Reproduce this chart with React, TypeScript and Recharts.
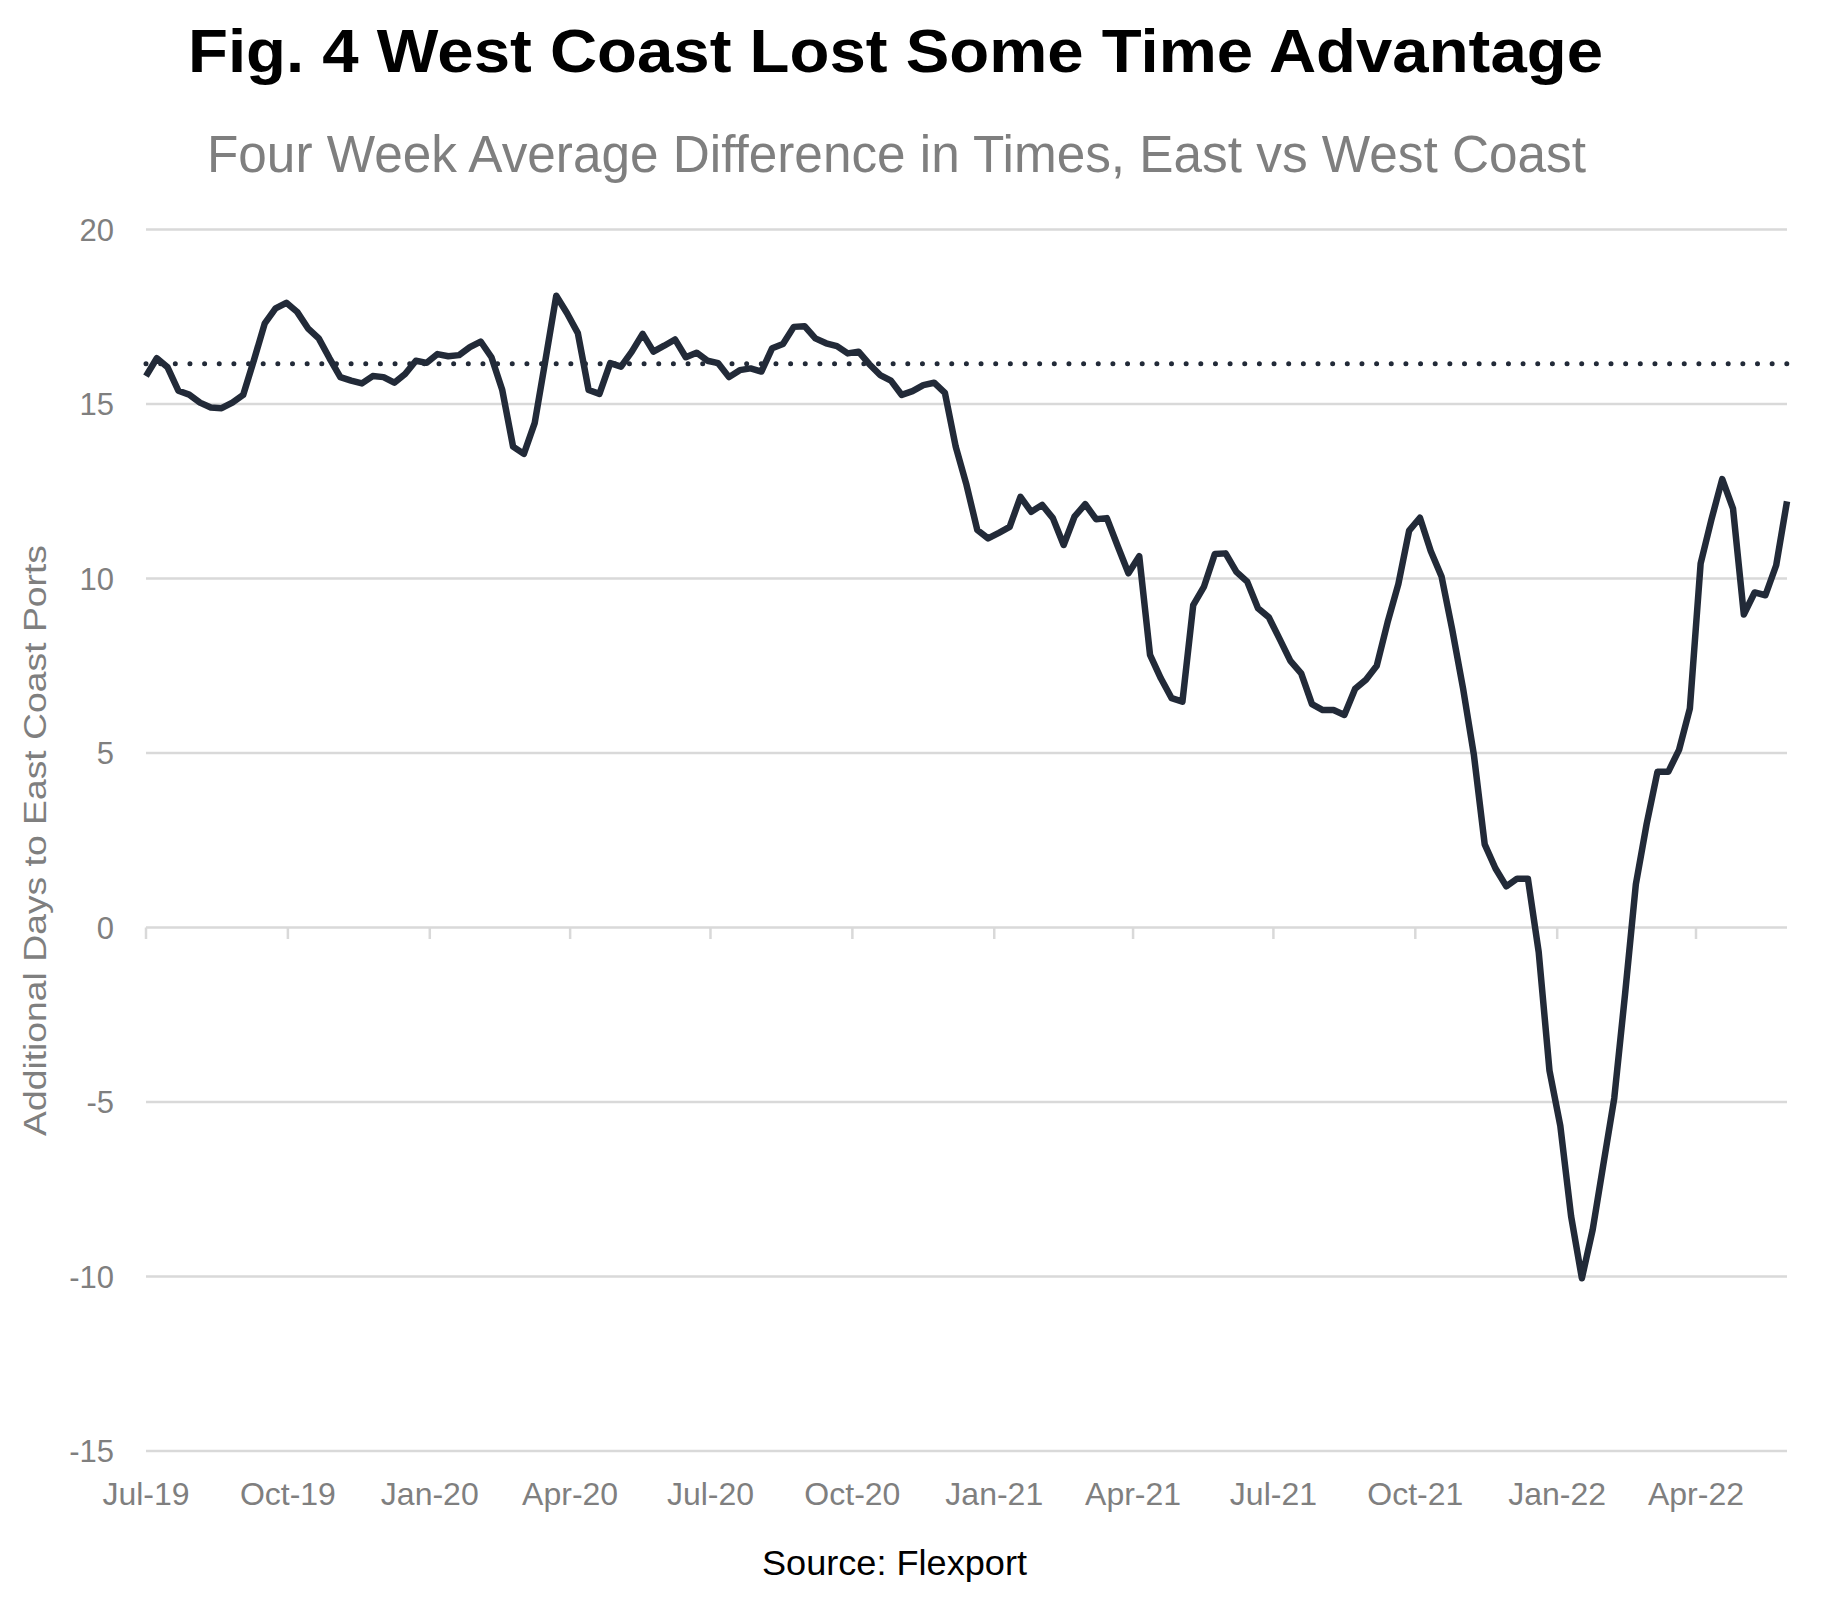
import React from 'react';
import { LineChart, Line, XAxis, YAxis, CartesianGrid, ReferenceLine } from 'recharts';

// Weekly series start (first observation) and spacing
const START_DATE = Date.UTC(2019, 6, 1);
const WEEK_MS = 7 * 24 * 3600 * 1000;

// Four-week average difference (days), East vs West coast, weekly
const diffDays = [
  15.80, 16.31, 16.05, 15.38, 15.27, 15.04, 14.90, 14.88, 15.04, 15.26,
  16.26, 17.31, 17.74, 17.90, 17.64, 17.17, 16.88, 16.31, 15.77, 15.67,
  15.59, 15.80, 15.77, 15.61, 15.86, 16.24, 16.18, 16.43, 16.37, 16.40,
  16.63, 16.79, 16.34, 15.40, 13.78, 13.57, 14.45, 16.26, 18.10, 17.60,
  17.03, 15.40, 15.29, 16.17, 16.07, 16.50, 17.01, 16.50, 16.67, 16.85,
  16.34, 16.47, 16.24, 16.17, 15.77, 15.97, 16.02, 15.93, 16.60, 16.72,
  17.21, 17.23, 16.88, 16.74, 16.66, 16.45, 16.50, 16.14, 15.83, 15.67,
  15.26, 15.37, 15.54, 15.61, 15.32, 13.78, 12.68, 11.39, 11.15, 11.31,
  11.48, 12.34, 11.91, 12.11, 11.73, 10.96, 11.77, 12.13, 11.70, 11.73,
  10.93, 10.15, 10.64, 7.81, 7.14, 6.57, 6.47, 9.24, 9.77, 10.70,
  10.72, 10.19, 9.91, 9.15, 8.89, 8.27, 7.64, 7.28, 6.40, 6.23,
  6.23, 6.09, 6.84, 7.10, 7.50, 8.74, 9.84, 11.37, 11.74, 10.79,
  10.06, 8.52, 6.84, 4.94, 2.38, 1.69, 1.18, 1.40, 1.40, -0.70,
  -4.10, -5.68, -8.27, -10.05, -8.66, -6.77, -4.89, -1.91, 1.24, 2.97,
  4.46, 4.46, 5.09, 6.27, 10.43, 11.69, 12.85, 12.00, 8.97, 9.60,
  9.52, 10.38, 12.21,
];

// Long-run average (dotted line)
const averageLevel = 16.15;

const quarterTicks = [
  Date.UTC(2019, 6, 1), Date.UTC(2019, 9, 1), Date.UTC(2020, 0, 1), Date.UTC(2020, 3, 1),
  Date.UTC(2020, 6, 1), Date.UTC(2020, 9, 1), Date.UTC(2021, 0, 1), Date.UTC(2021, 3, 1),
  Date.UTC(2021, 6, 1), Date.UTC(2021, 9, 1), Date.UTC(2022, 0, 1), Date.UTC(2022, 3, 1),
];
const quarterLabels = [
  'Jul-19', 'Oct-19', 'Jan-20', 'Apr-20', 'Jul-20', 'Oct-20',
  'Jan-21', 'Apr-21', 'Jul-21', 'Oct-21', 'Jan-22', 'Apr-22',
];
const yTicks = [-15, -10, -5, 0, 5, 10, 15, 20];

const TITLE = 'Fig. 4 West Coast Lost Some Time Advantage';
const SUBTITLE = 'Four Week Average Difference in Times, East vs West Coast';
const Y_LABEL = 'Additional Days to East Coast Ports';
const SOURCE = 'Source: Flexport';

const data = diffDays.map((v, i) => ({ t: START_DATE + i * WEEK_MS, v }));

const FONT = '"Liberation Sans", Arial, Helvetica, sans-serif';
const GRID = '#d9d9d9';
const LINE = '#222a38';
const GRAY = '#7f7f7f';

export default function App() {
  const tMin = data[0].t;
  const tMax = data[data.length - 1].t;
  return (
    <div style={{ position: 'absolute', left: 0, top: 0, width: 1845, height: 1597, background: '#fff', fontFamily: FONT }}>
      <LineChart
        width={1845}
        height={1597}
        data={data}
        margin={{ top: 229.5, right: 58, left: 0, bottom: 86 }}
      >
        <CartesianGrid horizontal vertical={false} stroke={GRID} strokeWidth={2.5} />
        <XAxis
          type="number"
          dataKey="t"
          domain={[tMin, tMax]}
          ticks={quarterTicks}
          tickFormatter={(v: number) => quarterLabels[quarterTicks.indexOf(v)] ?? ''}
          axisLine={false}
          tickLine={false}
          tickSize={0}
          tickMargin={31}
          height={60}
          interval={0}
          tick={{ fill: GRAY, fontSize: 32, fontFamily: FONT }}
        />
        <YAxis
          type="number"
          domain={[-15, 20]}
          ticks={yTicks}
          axisLine={false}
          tickLine={false}
          tickSize={0}
          tickMargin={32}
          width={146}
          interval={0}
          tick={{ fill: GRAY, fontSize: 31, fontFamily: FONT }}
        />
        {quarterTicks.map((q) => (
          <ReferenceLine
            key={q}
            segment={[{ x: q, y: 0 }, { x: q, y: -0.33 }]}
            stroke={GRID}
            strokeWidth={2.5}
            ifOverflow="visible"
          />
        ))}
        <ReferenceLine
          y={averageLevel}
          stroke={LINE}
          strokeWidth={5}
          strokeDasharray="0 14.65"
          strokeLinecap="round"
        />
        <Line
          type="linear"
          dataKey="v"
          stroke={LINE}
          strokeWidth={6.5}
          strokeLinejoin="round"
          dot={false}
          activeDot={false}
          isAnimationActive={false}
        />
      </LineChart>
      <svg
        width={1845}
        height={1597}
        style={{ position: 'absolute', left: 0, top: 0, pointerEvents: 'none' }}
      >
        <text
          x={188}
          y={72}
          fontFamily={FONT}
          fontWeight={700}
          fontSize={62}
          fill="#000"
          textLength={1415}
          lengthAdjust="spacingAndGlyphs"
        >
          {TITLE}
        </text>
        <text
          x={207}
          y={171.5}
          fontFamily={FONT}
          fontSize={51}
          fill={GRAY}
          textLength={1379}
          lengthAdjust="spacingAndGlyphs"
        >
          {SUBTITLE}
        </text>
        <text
          x={0}
          y={0}
          transform="translate(46, 1136) rotate(-90)"
          fontFamily={FONT}
          fontSize={31}
          fill={GRAY}
          textLength={591}
          lengthAdjust="spacingAndGlyphs"
        >
          {Y_LABEL}
        </text>
        <text
          x={762}
          y={1575}
          fontFamily={FONT}
          fontSize={35}
          fill="#000"
          textLength={265}
          lengthAdjust="spacingAndGlyphs"
        >
          {SOURCE}
        </text>
      </svg>
    </div>
  );
}
